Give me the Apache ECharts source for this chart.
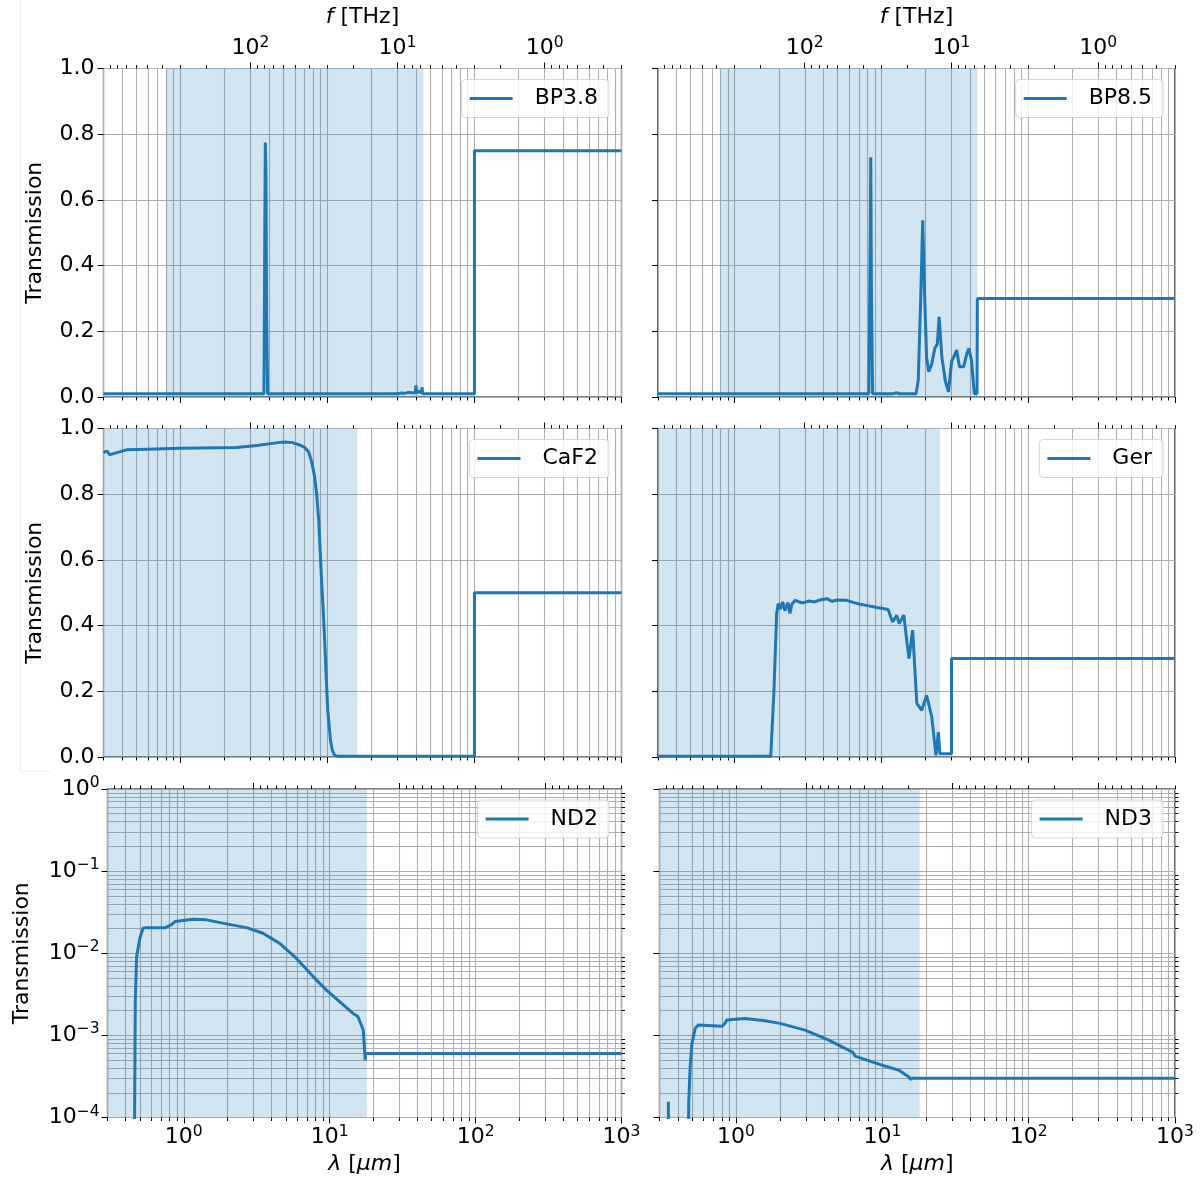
<!DOCTYPE html>
<html><head><meta charset="utf-8">
<script src="https://cdn.jsdelivr.net/npm/echarts@6/dist/echarts.min.js"></script>
<style>html,body{margin:0;padding:0;background:#fff;}#chart{width:1203px;height:1184px;}</style>
</head><body><div id="chart"></div>
<script>
// ---------- data ----------
const C_UM_THZ = 299.792458; // lambda[um] * f[THz]
const lamMin = 0.3, lamMax = 1000;
const lamMajor = [1, 10, 100, 1000];
const lamMinor = [0.3,0.4,0.5,0.6,0.7,0.8,0.9,2,3,4,5,6,7,8,9,20,30,40,50,60,70,80,90,200,300,400,500,600,700,800,900];
const freqMajor = [1, 10, 100];
const freqMinor = [0.3,0.4,0.5,0.6,0.7,0.8,0.9,2,3,4,5,6,7,8,9,20,30,40,50,60,70,80,90,200,300,400,500,600,700,800,900];
const logMajor = [0.0001, 0.001, 0.01, 0.1, 1];
const logMinor = [0.0002,0.0003,0.0004,0.0005,0.0006,0.0007,0.0008,0.0009,0.002,0.003,0.004,0.005,0.006,0.007,0.008,0.009,0.02,0.03,0.04,0.05,0.06,0.07,0.08,0.09,0.2,0.3,0.4,0.5,0.6,0.7,0.8,0.9];

const panelNames = ['BP3.8', 'BP8.5', 'CaF2', 'Ger', 'ND2', 'ND3'];
const shadeFrom = [0.8, 0.8, 0.3, 0.3, 0.3, 0.3];
const shadeTo   = [45, 45, 16, 25, 18, 18];

const bp38Lam = [0.3, 3.70, 3.74, 3.78, 3.82, 3.86, 3.92, 29, 29.5, 30.2, 32, 32.6, 33.4, 35.5, 36, 36.6, 39.5, 40, 40.5, 41.6, 42, 42.4, 43.6, 44, 44.5, 100, 100, 1000];
const bp38T   = [0.01, 0.01, 0.40, 0.775, 0.68, 0.25, 0.01, 0.01, 0.013, 0.01, 0.012, 0.018, 0.011, 0.014, 0.016, 0.01, 0.012, 0.035, 0.012, 0.012, 0.018, 0.012, 0.012, 0.03, 0.01, 0.01, 0.75, 0.75];

const bp85Lam = [0.3, 8.2, 8.35, 8.45, 8.55, 8.7, 11.5, 11.8, 12.1, 12.6, 13.0, 13.3, 17.2, 17.8, 18.5, 19.1, 19.7, 20.3, 21.0, 22.0, 23.1, 24.0, 24.7, 25.8, 27.2, 28.6, 29.2, 30.1, 31.0, 32.5, 34.0, 36.3, 38.2, 39.4, 41.1, 42.9, 44.8, 45, 1000];
const bp85T   = [0.01, 0.01, 0.40, 0.73, 0.30, 0.01, 0.01, 0.015, 0.01, 0.013, 0.016, 0.01, 0.01, 0.05, 0.30, 0.538, 0.30, 0.12, 0.077, 0.10, 0.149, 0.16, 0.244, 0.12, 0.05, 0.016, 0.01, 0.11, 0.12, 0.143, 0.092, 0.092, 0.133, 0.148, 0.11, 0.01, 0.01, 0.30, 0.30];

const caf2Lam = [0.3, 0.31, 0.32, 0.33, 0.36, 0.43, 0.6, 1.0, 2.4, 3.3, 4.6, 5.1, 5.8, 6.56, 7.0, 7.45, 7.8, 8.19, 8.45, 8.73, 8.9, 9.1, 9.35, 9.6, 9.8, 10.05, 10.3, 10.5, 10.8, 11.2, 11.5, 11.8, 15.6, 15.8, 16.0, 100, 100, 1000];
const caf2T   = [0.926, 0.93, 0.93, 0.92, 0.925, 0.935, 0.937, 0.94, 0.942, 0.948, 0.957, 0.959, 0.957, 0.949, 0.942, 0.929, 0.90, 0.853, 0.80, 0.72, 0.64, 0.548, 0.45, 0.345, 0.25, 0.142, 0.09, 0.05, 0.02, 0.005, 0.003, 0.002, 0.002, 0.007, 0.002, 0.002, 0.50, 0.50];

const gerLam = [0.3, 1.76, 1.85, 1.93, 1.98, 2.05, 2.12, 2.2, 2.3, 2.38, 2.45, 2.58, 2.75, 2.94, 3.2, 3.5, 3.8, 4.24, 4.6, 5.0, 5.8, 6.5, 7.15, 8.2, 9.3, 10.2, 11.1, 11.9, 12.7, 13.2, 14.2, 14.9, 15.4, 16.3, 16.8, 17.4, 18.8, 20.3, 22.0, 23.5, 24.4, 25.0, 30, 30, 1000];
const gerT   = [0.002, 0.002, 0.2, 0.437, 0.467, 0.45, 0.472, 0.445, 0.47, 0.437, 0.465, 0.477, 0.472, 0.469, 0.475, 0.472, 0.478, 0.482, 0.474, 0.478, 0.477, 0.47, 0.465, 0.46, 0.455, 0.452, 0.449, 0.411, 0.431, 0.406, 0.432, 0.35, 0.30, 0.386, 0.284, 0.163, 0.142, 0.188, 0.122, 0.005, 0.076, 0.01, 0.01, 0.30, 0.30];

const nd2Lam = [0.3, 0.455, 0.46, 0.465, 0.475, 0.5, 0.526, 0.55, 0.74, 0.82, 0.87, 1.16, 1.43, 1.96, 2.69, 3.49, 4.54, 5.9, 7.7, 9.5, 11.7, 14.4, 15.6, 17.0, 17.5, 17.6, 1000];
const nd2T   = [0.000001, 0.000001, 0.0001, 0.0025, 0.0091, 0.0152, 0.0202, 0.0205, 0.0204, 0.0221, 0.0243, 0.026, 0.0255, 0.0228, 0.0205, 0.0175, 0.0132, 0.0087, 0.0052, 0.00356, 0.00257, 0.00186, 0.0017, 0.00116, 0.0005, 0.0006, 0.0006];

const nd3Lam = [0.3, 0.344, 0.345, 0.346, 0.47, 0.475, 0.486, 0.50, 0.526, 0.555, 0.80, 0.84, 0.865, 1.15, 1.58, 2.0, 2.96, 4.27, 6.3, 6.5, 6.7, 9.7, 9.9, 10.1, 12.9, 15.3, 15.5, 15.8, 16, 1000];
const nd3T   = [0.000001, 0.000001, 0.000155, 0.000001, 0.000001, 0.00015, 0.00041, 0.0008, 0.00122, 0.00134, 0.00129, 0.0014, 0.00154, 0.00161, 0.00151, 0.0014, 0.00116, 0.00088, 0.00062, 0.00056, 0.00058, 0.00044, 0.00042, 0.00043, 0.000378, 0.00031, 0.00029, 0.000305, 0.0003, 0.0003];

const panelLam = [bp38Lam, bp85Lam, caf2Lam, gerLam, nd2Lam, nd3Lam];
const panelT = [bp38T, bp85T, caf2T, gerT, nd2T, nd3T];

// ---------- layout / style ----------
const FONT = 'DejaVu Sans';
const FS = 22;
const BLUE = '#1f77b4';
const grids = [
  {left: 103.5, top: 68.5, width: 518, height: 328.5},
  {left: 658, top: 68.5, width: 517, height: 328.5},
  {left: 103.5, top: 428.5, width: 518, height: 328.5},
  {left: 658, top: 428.5, width: 517, height: 328.5},
  {left: 107.5, top: 789, width: 514, height: 328.5},
  {left: 659.5, top: 789, width: 515.5, height: 328.5}
];
grids.forEach(g => { g.show = true; g.borderColor = '#000'; g.borderWidth = 1.2; g.backgroundColor = 'transparent'; });

function pow10Label(v) {
  const e = Math.round(Math.log10(v));
  return '10{sup|' + (e < 0 ? '\u2212' + (-e) : String(e)) + '}';
}
const supRich = { sup: { fontSize: 15.5, fontFamily: FONT, color: '#000', verticalAlign: 'top', lineHeight: 28 } };
const itRich = { it: { fontStyle: 'italic', fontSize: FS, fontFamily: FONT, color: '#000' } };
const tickLine = { color: '#000', width: 1 };
const gridLine = { color: '#b0b0b0', width: 1.1 };

const xAxes = [], yAxes = [], series = [], legends = [];
for (let i = 0; i < 6; i++) {
  const row = Math.floor(i / 2), col = i % 2;
  const xi = xAxes.length;
  xAxes.push({
    gridIndex: i, type: 'log', logBase: 10, min: lamMin, max: lamMax, position: 'bottom',
    axisLine: { show: false },
    axisTick: { show: true, length: 6, customValues: lamMajor, lineStyle: tickLine },
    axisLabel: { show: row === 2, customValues: lamMajor, formatter: pow10Label, fontSize: FS, fontFamily: FONT, color: '#000', margin: 6, lineHeight: 28, rich: supRich },
    splitLine: { show: true, lineStyle: gridLine },
    name: row === 2 ? '{it|\u03bb} [{it|\u03bcm}]' : '', nameLocation: 'middle', nameGap: 36,
    nameTextStyle: { fontSize: FS, fontFamily: FONT, color: '#000', rich: itRich }
  });
  xAxes.push({
    gridIndex: i, type: 'log', logBase: 10, min: lamMin, max: lamMax, position: 'bottom',
    axisLine: { show: false },
    axisTick: { show: true, length: 3.5, customValues: lamMinor, lineStyle: tickLine },
    axisLabel: { show: false },
    splitLine: { show: true, lineStyle: gridLine }
  });
  xAxes.push({
    gridIndex: i, type: 'log', logBase: 10, min: C_UM_THZ / lamMax, max: C_UM_THZ / lamMin, inverse: true, position: 'top',
    axisLine: { show: false },
    axisTick: { show: true, length: 6, customValues: freqMajor, lineStyle: tickLine },
    axisLabel: { show: row === 0, customValues: freqMajor, formatter: pow10Label, fontSize: FS, fontFamily: FONT, color: '#000', margin: 6, lineHeight: 28, rich: supRich },
    splitLine: { show: false },
    name: row === 0 ? '{it|f} [THz]' : '', nameLocation: 'middle', nameGap: 40,
    nameTextStyle: { fontSize: FS, fontFamily: FONT, color: '#000', rich: itRich }
  });
  xAxes.push({
    gridIndex: i, type: 'log', logBase: 10, min: C_UM_THZ / lamMax, max: C_UM_THZ / lamMin, inverse: true, position: 'top',
    axisLine: { show: false },
    axisTick: { show: true, length: 3.5, customValues: freqMinor, lineStyle: tickLine },
    axisLabel: { show: false },
    splitLine: { show: false }
  });

  const yi = yAxes.length;
  const yName = col === 0 ? 'Transmission' : '';
  if (row < 2) {
    yAxes.push({
      gridIndex: i, type: 'value', min: 0, max: 1, interval: 0.2,
      axisLine: { show: false },
      axisTick: { show: true, length: 6, lineStyle: tickLine },
      axisLabel: { show: col === 0, formatter: v => v.toFixed(1), fontSize: FS, fontFamily: FONT, color: '#000', margin: 9 },
      splitLine: { show: true, lineStyle: gridLine },
      name: yName, nameLocation: 'middle', nameGap: 57,
      nameTextStyle: { fontSize: FS, fontFamily: FONT, color: '#000' }
    });
  } else {
    yAxes.push({
      gridIndex: i, type: 'log', logBase: 10, min: 0.0001, max: 1,
      axisLine: { show: false },
      axisTick: { show: true, length: 6, customValues: logMajor, lineStyle: tickLine },
      axisLabel: { show: col === 0, customValues: logMajor, formatter: pow10Label, fontSize: FS, fontFamily: FONT, color: '#000', margin: 8, lineHeight: 28, rich: supRich },
      splitLine: { show: true, lineStyle: gridLine },
      name: yName, nameLocation: 'middle', nameGap: 74,
      nameTextStyle: { fontSize: FS, fontFamily: FONT, color: '#000' }
    });
    yAxes.push({
      gridIndex: i, type: 'log', logBase: 10, min: 0.0001, max: 1,
      axisLine: { show: false },
      axisTick: { show: true, length: 3.5, customValues: logMinor, lineStyle: tickLine },
      axisLabel: { show: false },
      splitLine: { show: true, lineStyle: gridLine }
    });
  }

  series.push({
    type: 'line', name: panelNames[i], xAxisIndex: xi, yAxisIndex: yi,
    data: panelLam[i].map((l, k) => [l, panelT[i][k]]),
    showSymbol: false, symbol: 'none', color: BLUE,
    lineStyle: { color: BLUE, width: 3 }, clip: true, animation: false, z: 5,
    markArea: {
      silent: true, itemStyle: { color: 'rgba(31,119,180,0.2)' },
      data: [[{ xAxis: shadeFrom[i] }, { xAxis: shadeTo[i] }]]
    }
  });

  legends.push({
    data: [panelNames[i]], right: col === 0 ? 594 : 40, top: grids[i].top + 11,
    icon: 'rect', itemWidth: 43, itemHeight: 3, selectedMode: false,
    padding: [8, 11, 8, 8], backgroundColor: 'rgba(255,255,255,0.8)',
    borderColor: 'rgba(204,204,204,0.8)', borderWidth: 1, borderRadius: 4,
    textStyle: { fontSize: FS, fontFamily: FONT, color: '#000', padding: [0, 0, 0, 17] }
  });
}

const chart = echarts.init(document.getElementById('chart'), null, { renderer: 'canvas' });
chart.setOption({
  animation: false,
  backgroundColor: '#fff',
  textStyle: { fontFamily: FONT },
  grid: grids,
  xAxis: xAxes,
  yAxis: yAxes,
  legend: legends,
  series: series,
  graphic: [
    { type: 'line', shape: { x1: 20.5, y1: 0, x2: 20.5, y2: 771 }, style: { stroke: '#ececec', lineWidth: 1 }, silent: true },
    { type: 'line', shape: { x1: 20.5, y1: 771.5, x2: 50, y2: 771.5 }, style: { stroke: '#ececec', lineWidth: 1 }, silent: true }
  ]
});
</script>
</body></html>
